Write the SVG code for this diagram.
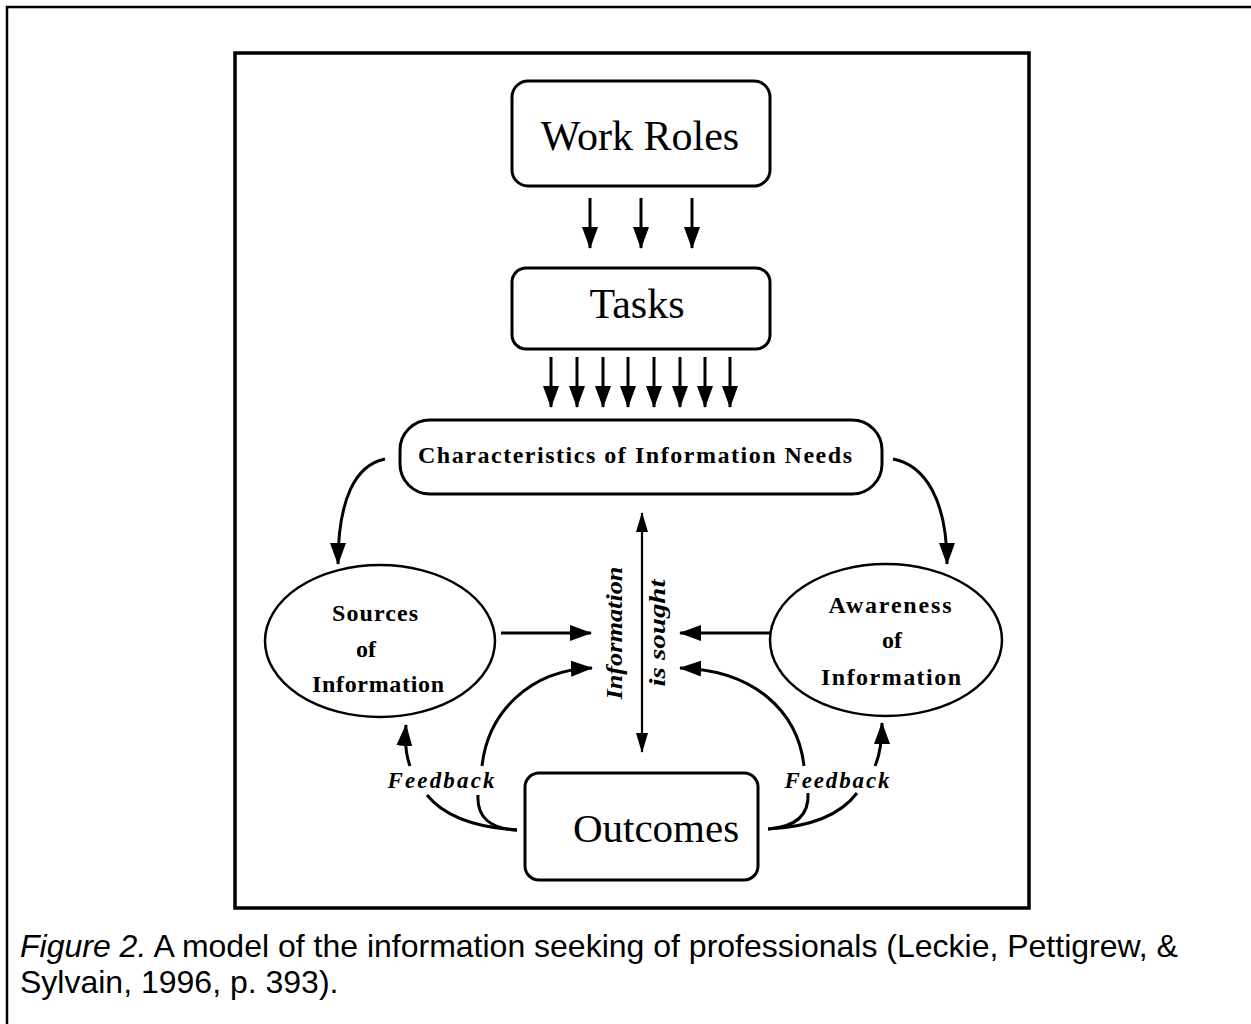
<svg xmlns="http://www.w3.org/2000/svg" width="1251" height="1024" viewBox="0 0 1251 1024">
<style>
.box{fill:#fff;stroke:#000;stroke-width:3}
.ell{fill:#fff;stroke:#000;stroke-width:2.5}
.serif{font-family:"Liberation Serif","Times New Roman",serif;fill:#000}
.big{font-size:42px;text-anchor:middle}
.bold{font-weight:bold}
.bi{font-weight:bold;font-style:italic}
.mid{text-anchor:middle}
.ln{fill:none;stroke:#000;stroke-width:3}
.thin{fill:none;stroke:#000;stroke-width:2.2}
.cap{font-family:"Liberation Sans",Arial,sans-serif;font-size:32px;fill:#000}
</style>
<defs>
<marker id="ah" viewBox="0 0 22 16" refX="21" refY="8" markerWidth="22" markerHeight="16" markerUnits="userSpaceOnUse" orient="auto">
<path d="M0,0 L22,8 L0,16 z" fill="#000"/>
</marker>
<marker id="ahs" viewBox="0 0 20 12" refX="19" refY="6" markerWidth="20" markerHeight="12" markerUnits="userSpaceOnUse" orient="auto-start-reverse">
<path d="M0,0 L20,6 L0,12 z" fill="#000"/>
</marker>
</defs>
<rect width="1251" height="1024" fill="#fff"/>
<path d="M7,1024 V7 H1251" fill="none" stroke="#000" stroke-width="2.5"/>
<rect x="235" y="53" width="794" height="855" fill="none" stroke="#000" stroke-width="3.5"/>

<g id="work-roles">
<rect class="box" x="512" y="81" width="258" height="105" rx="16"/>
<text class="serif big" x="640" y="150">Work Roles</text>
</g>
<g id="tasks">
<rect class="box" x="512" y="268" width="258" height="81" rx="14"/>
<text class="serif big" x="637" y="318">Tasks</text>
</g>
<g id="characteristics">
<rect class="box" x="400" y="420" width="482" height="74" rx="30"/>
<text class="serif bold" x="418" y="463" font-size="24" textLength="434" lengthAdjust="spacing">Characteristics of Information Needs</text>
</g>
<g id="sources">
<ellipse class="ell" cx="380" cy="641" rx="115" ry="76"/>
<text class="serif bold mid" font-size="24" x="375" y="621" textLength="86" lengthAdjust="spacing">Sources</text>
<text class="serif bold mid" font-size="24" x="366" y="657">of</text>
<text class="serif bold mid" font-size="24" x="378" y="692" textLength="132" lengthAdjust="spacing">Information</text>
</g>
<g id="awareness">
<ellipse class="ell" cx="886" cy="640" rx="116" ry="76"/>
<text class="serif bold mid" font-size="24" x="890" y="613" textLength="123" lengthAdjust="spacing">Awareness</text>
<text class="serif bold mid" font-size="24" x="892" y="648">of</text>
<text class="serif bold mid" font-size="24" x="891" y="685" textLength="140" lengthAdjust="spacing">Information</text>
</g>
<g id="outcomes">
<rect class="box" x="525" y="773" width="233" height="107" rx="14"/>
<text class="serif" x="656" y="842" font-size="41" text-anchor="middle">Outcomes</text>
</g>
<g id="info-sought">
<text class="serif bi mid" font-size="24" transform="translate(622,633) rotate(-90)" textLength="133" lengthAdjust="spacingAndGlyphs">Information</text>
<text class="serif bi mid" font-size="24" transform="translate(665,633) rotate(-90)" textLength="107" lengthAdjust="spacingAndGlyphs">is sought</text>
</g>
<g id="feedback-labels">
<text class="serif bi mid" font-size="23" x="441" y="788" textLength="107" lengthAdjust="spacing">Feedback</text>
<text class="serif bi mid" font-size="23" x="837" y="788" textLength="105" lengthAdjust="spacing">Feedback</text>
</g>

<g id="connectors">
<line class="ln" x1="590" y1="198" x2="590" y2="248" marker-end="url(#ah)"/>
<line class="ln" x1="641" y1="198" x2="641" y2="248" marker-end="url(#ah)"/>
<line class="ln" x1="692" y1="198" x2="692" y2="248" marker-end="url(#ah)"/>
<line class="ln" x1="551" y1="357" x2="551" y2="407" marker-end="url(#ah)"/>
<line class="ln" x1="577" y1="357" x2="577" y2="407" marker-end="url(#ah)"/>
<line class="ln" x1="603" y1="357" x2="603" y2="407" marker-end="url(#ah)"/>
<line class="ln" x1="628" y1="357" x2="628" y2="407" marker-end="url(#ah)"/>
<line class="ln" x1="654" y1="357" x2="654" y2="407" marker-end="url(#ah)"/>
<line class="ln" x1="680" y1="357" x2="680" y2="407" marker-end="url(#ah)"/>
<line class="ln" x1="705" y1="357" x2="705" y2="407" marker-end="url(#ah)"/>
<line class="ln" x1="730" y1="357" x2="730" y2="407" marker-end="url(#ah)"/>
<path class="ln" d="M385,459 C355,465 338,500 338,564" marker-end="url(#ah)"/>
<path class="ln" d="M893,459 C925,465 947,500 947,564" marker-end="url(#ah)"/>
<line class="thin" x1="642" y1="513" x2="642" y2="752" marker-start="url(#ahs)" marker-end="url(#ahs)"/>
<line class="ln" x1="501" y1="633" x2="591" y2="633" stroke-width="3.5" marker-end="url(#ah)"/>
<line class="ln" x1="770" y1="633" x2="680" y2="633" stroke-width="3.5" marker-end="url(#ah)"/>
<path class="ln" d="M482,766 C488,712 530,670 592,668" marker-end="url(#ah)"/>
<path class="ln" d="M804,766 C798,712 755,670 680,668" marker-end="url(#ah)"/>
<path class="ln" d="M410,766 Q404,750 406,725" marker-end="url(#ah)"/>
<path class="ln" d="M875,766 Q882,750 882,723" marker-end="url(#ah)"/>
<path class="ln" d="M427,795 Q452,826 517,830"/>
<path class="ln" d="M478,795 Q476,828 517,830"/>
<path class="ln" d="M808,793 Q810,826 768,829"/>
<path class="ln" d="M857,793 Q832,826 768,829"/>
</g>

<text class="cap" x="20" y="957"><tspan font-style="italic">Figure 2.</tspan> A model of the information seeking of professionals (Leckie, Pettigrew, &amp;</text>
<text class="cap" x="20" y="993">Sylvain, 1996, p. 393).</text>
</svg>
